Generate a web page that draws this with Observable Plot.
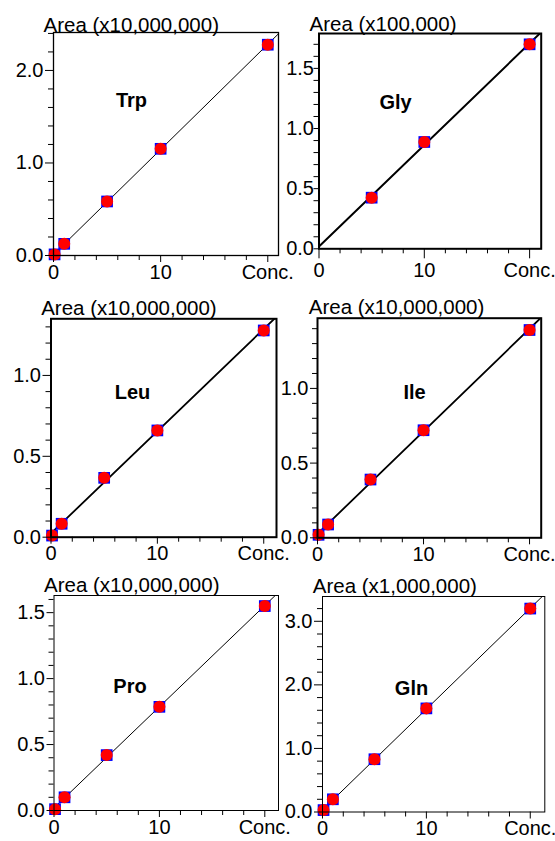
<!DOCTYPE html>
<html><head><meta charset="utf-8">
<script src="https://cdn.jsdelivr.net/npm/d3@7"></script>
<script src="https://cdn.jsdelivr.net/npm/@observablehq/plot@0.6"></script>
<style>
body{margin:0;background:#fff;}
#wrap{position:relative;width:555px;height:841px;overflow:hidden;background:#fff;}
.panel{position:absolute;}
.panel svg{overflow:visible;background:transparent;max-width:none;}
</style></head><body><div id="wrap"></div>
<script>
// ---- data ----
const conc = [0.1, 1, 5, 10, 20];
const glyConc = [5, 10, 20];
const trpArea = [0.012, 0.126, 0.584, 1.153, 2.278];
const glyArea = [0.425, 0.888, 1.700];
const leuArea = [0.010, 0.083, 0.367, 0.660, 1.278];
const ileArea = [0.020, 0.089, 0.390, 0.720, 1.391];
const proArea = [0.010, 0.100, 0.420, 0.786, 1.550];
const glnArea = [0.030, 0.200, 0.830, 1.630, 3.200];
const names = ["Trp", "Gly", "Leu", "Ile", "Pro", "Gln"];
const yUnitLabels = ["Area (x10,000,000)", "Area (x100,000)", "Area (x10,000,000)", "Area (x10,000,000)", "Area (x10,000,000)", "Area (x1,000,000)"];
const xTickValues = [0, 10, 20];
const xTickLabels = ["0", "10", "Conc."];
const xMinorStep = 2;
const yMajorTicks = [[0, 1, 2], [0, 0.5, 1, 1.5], [0, 0.5, 1], [0, 0.5, 1], [0, 0.5, 1, 1.5], [0, 1, 2, 3]];
const yMinorStep = [0.2, 0.1, 0.1, 0.1, 0.1, 0.2];
const xMax = [21.0, 21.1, 21.2, 21.1, 21.3, 21.4];
const yMax = [2.41, 1.79, 1.35, 1.47, 1.63, 3.39];

const seriesX = [conc, glyConc, conc, conc, conc, conc];
const seriesY = [trpArea, glyArea, leuArea, ileArea, proArea, glnArea];

// ---- layout (positions / styles) ----
const layout = [
  {left: 0,   top: 0,   w: 280, h: 280, mL: 53,   mT: 32,   mR: 2,    mB: 25,   lw: 1,   fw: 1.3, lab: [78, 68],   tit: [-10, -1],  xs: 7,  xp: 2, ys: 8, yp: 2},
  {left: 275, top: 0,   w: 280, h: 280, mL: 43.5, mT: 33,   mR: 14.3, mB: 31.7, lw: 2,   fw: 2,   lab: [76.5, 69], tit: [-9.5, -3], xs: 10, xp: 4, ys: 5, yp: 0},
  {left: 0,   top: 280, w: 280, h: 280, mL: 50.5, mT: 38.3, mR: 4,    mB: 23.3, lw: 1.8, fw: 2,   lab: [81.5, 74], tit: [-9.8, -4], xs: 7,  xp: 2, ys: 8, yp: 2},
  {left: 275, top: 280, w: 280, h: 280, mL: 42,   mT: 37.7, mR: 14.3, mB: 22.7, lw: 1.8, fw: 2,   lab: [97, 74],   tit: [-8.7, -4], xs: 7,  xp: 2, ys: 7, yp: 2},
  {left: 0,   top: 560, w: 280, h: 281, mL: 53.5, mT: 35,   mR: 2,    mB: 31,   lw: 1,   fw: 1,   lab: [76, 91],   tit: [-10, -4],  xs: 7,  xp: 2, ys: 7, yp: 2},
  {left: 275, top: 560, w: 280, h: 281, mL: 47,   mT: 36,   mR: 10.7, mB: 29.5, lw: 1,   fw: 1,   lab: [89, 92],   tit: [-9.7, -4], xs: 7,  xp: 2, ys: 8, yp: 2}
];
const tickFont = 20;

function fit(xs, ys) {
  const mx = d3.mean(xs), my = d3.mean(ys);
  const sxy = d3.sum(xs, (x, i) => (x - mx) * (ys[i] - my));
  const sxx = d3.sum(xs, x => (x - mx) ** 2);
  const b = sxy / sxx, a = my - b * mx;
  return x => a + b * x;
}

const wrap = document.getElementById("wrap");
names.forEach((name, i) => {
  const L = layout[i];
  const pts = seriesX[i].map((c, j) => ({c, a: seriesY[i][j]}));
  const f = fit(seriesX[i], seriesY[i]);
  const fitLine = [0, xMax[i]].map(c => ({c, a: f(c)}));
  const majY = yMajorTicks[i];
  const minY = d3.range(0, yMax[i] + 1e-9, yMinorStep[i]).filter(v => !majY.some(m => Math.abs(m - v) < 1e-6));
  const minX = d3.range(0, 20 + 1e-9, xMinorStep).filter(v => !xTickValues.includes(v));
  const chart = Plot.plot({
    width: L.w, height: L.h,
    marginLeft: L.mL, marginTop: L.mT, marginRight: L.mR, marginBottom: L.mB,
    style: {fontFamily: "'Liberation Sans', Arial, sans-serif", fontSize: tickFont + "px", background: "transparent", overflow: "visible", color: "black"},
    x: {domain: [0, xMax[i]]},
    y: {domain: [0, yMax[i]]},
    marks: [
      Plot.line(fitLine, {x: "c", y: "a", stroke: "black", strokeWidth: L.lw, clip: true}),
      Plot.dot(pts, {x: "c", y: "a", symbol: "square", fill: "#0000ff", r: 6.6}),
      Plot.dot(pts, {x: "c", y: "a", fill: "#ff0000", r: 6.0}),
      Plot.frame({stroke: "black", strokeWidth: L.fw}),
      Plot.axisX({ticks: xTickValues, tickFormat: v => xTickLabels[xTickValues.indexOf(v)], tickSize: L.xs, tickPadding: L.xp, label: null, fontSize: tickFont}),
      Plot.axisX({ticks: minX, tickFormat: () => "", tickSize: 5, label: null}),
      Plot.axisY({ticks: majY, tickFormat: d3.format(".1f"), tickSize: L.ys, tickPadding: L.yp, label: null, fontSize: tickFont}),
      Plot.axisY({ticks: minY, tickFormat: () => "", tickSize: 5, label: null}),
      Plot.text([yUnitLabels[i]], {frameAnchor: "top-left", text: d => d, textAnchor: "start", lineAnchor: "bottom", dx: L.tit[0], dy: L.tit[1], fontSize: 20.5}),
      Plot.text([name], {frameAnchor: "top-left", text: d => d, textAnchor: "middle", lineAnchor: "middle", dx: L.lab[0], dy: L.lab[1], fontSize: 20, fontWeight: "bold"})
    ]
  });
  const div = document.createElement("div");
  div.className = "panel";
  div.style.left = L.left + "px";
  div.style.top = L.top + "px";
  div.style.width = L.w + "px";
  div.appendChild(chart);
  wrap.appendChild(div);
});
</script>
</body></html>
